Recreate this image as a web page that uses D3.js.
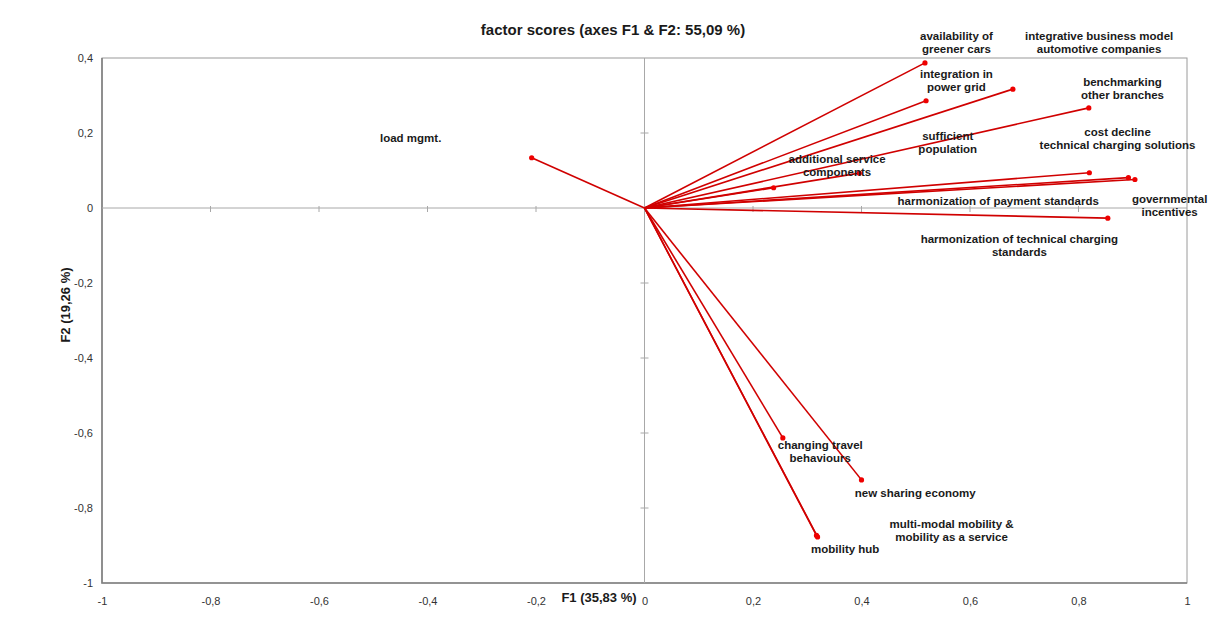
<!DOCTYPE html>
<html>
<head>
<meta charset="utf-8">
<script src="https://cdn.jsdelivr.net/npm/d3@7"></script>
<style>
  body { margin: 0; background: #fff; }
  text { font-family: Arial, "Liberation Sans", sans-serif; }
</style>
</head>
<body>
<div class="vis-biplot"></div>
<script>
// variables (factor loadings on F1 / F2)
const names = [
  'availability of greener cars', 'integration in power grid', 'integrative business model automotive companies',
  'benchmarking other branches', 'sufficient population', 'additional service components',
  'cost decline technical charging solutions', 'harmonization of payment standards', 'governmental incentives',
  'harmonization of technical charging standards', 'load mgmt.', 'changing travel behaviours',
  'new sharing economy', 'mobility hub', 'multi-modal mobility & mobility as a service'
];
const f1 = [0.517, 0.519, 0.679, 0.819, 0.396, 0.238, 0.820, 0.892, 0.904, 0.854, -0.208, 0.255, 0.400, 0.319, 0.317];
const f2 = [0.387, 0.286, 0.317, 0.267, 0.093, 0.054, 0.094, 0.081, 0.076, -0.027, 0.134, -0.613, -0.725, -0.877, -0.873];

// label text lines
const labelLines = [
  ['availability of', 'greener cars'], ['integration in', 'power grid'], ['integrative business model', 'automotive companies'],
  ['benchmarking', 'other branches'], ['sufficient', 'population'], ['additional service', 'components'],
  ['cost decline', 'technical charging solutions'], ['harmonization of payment standards'], ['governmental', 'incentives'],
  ['harmonization of technical charging', 'standards'], ['load mgmt.'], ['changing travel', 'behaviours'],
  ['new sharing economy'], ['mobility hub'], ['multi-modal mobility &', 'mobility as a service']
];
// label anchors (in F1/F2 units, as placed by the original)
const labelX = [0.575, 0.575, 0.838, 0.881, 0.559, 0.355, 0.872, 0.652, 0.968, 0.691, -0.431, 0.324, 0.499, 0.370, 0.566];
const labelY = [0.459, 0.357, 0.459, 0.336, 0.192, 0.131, 0.203, 0.019, 0.024, -0.083, 0.187, -0.632, -0.759, -0.909, -0.843];

const xTicks = [-1, -0.8, -0.6, -0.4, -0.2, 0, 0.2, 0.4, 0.6, 0.8, 1];
const xTickLabels = ['-1', '-0,8', '-0,6', '-0,4', '-0,2', '0', '0,2', '0,4', '0,6', '0,8', '1'];
const yTicks = [-1, -0.8, -0.6, -0.4, -0.2, 0, 0.2, 0.4];
const yTickLabels = ['-1', '-0,8', '-0,6', '-0,4', '-0,2', '0', '0,2', '0,4'];

const width = 1217, height = 643;
const plot = { left: 102, right: 1187, top: 58, bottom: 583 };

const svg = d3.select('.vis-biplot').append('svg')
  .attr('width', width).attr('height', height);

const x = d3.scaleLinear().domain([-1, 1]).range([plot.left, plot.right]);
const y = d3.scaleLinear().domain([-1, 0.4]).range([plot.bottom, plot.top]);

// frame
svg.append('rect')
  .attr('x', plot.left).attr('y', plot.top)
  .attr('width', plot.right - plot.left).attr('height', plot.bottom - plot.top)
  .attr('fill', 'none').attr('stroke', '#9a9a9a').attr('stroke-width', 1);
svg.append('path')
  .attr('d', `M${plot.left},${plot.top}V${plot.bottom}H${plot.right}`)
  .attr('fill', 'none').attr('stroke', '#808080').attr('stroke-width', 1.6);

// tick labels via axes
const fmtX = (d) => xTickLabels[xTicks.indexOf(d)];
const fmtY = (d) => yTickLabels[yTicks.indexOf(d)];
const gx = svg.append('g').attr('transform', `translate(0,${plot.bottom})`)
  .call(d3.axisBottom(x).tickValues(xTicks).tickFormat(fmtX).tickSize(0).tickPadding(12));
const gy = svg.append('g').attr('transform', `translate(${plot.left},0)`)
  .call(d3.axisLeft(y).tickValues(yTicks).tickFormat(fmtY).tickSize(0).tickPadding(9));
[gx, gy].forEach(g => {
  g.select('.domain').remove();
  g.selectAll('text').attr('font-size', 11).attr('fill', '#333')
    .attr('font-family', '"Liberation Sans Narrow", Arial, "Liberation Sans", sans-serif');
});
gx.selectAll('text').attr('dy', '0.9em');

// zero axes
svg.append('line').attr('x1', x(-1)).attr('x2', x(1)).attr('y1', y(0)).attr('y2', y(0))
  .attr('stroke', '#a8a8a8').attr('stroke-width', 1);
svg.append('line').attr('x1', x(0)).attr('x2', x(0)).attr('y1', y(0.4)).attr('y2', y(-1))
  .attr('stroke', '#a8a8a8').attr('stroke-width', 1);
svg.selectAll('.xtick').data(xTicks.filter(d => d > -1 && d < 1 && d !== 0)).enter().append('line')
  .attr('x1', d => x(d)).attr('x2', d => x(d)).attr('y1', y(0) - 2).attr('y2', y(0) + 4)
  .attr('stroke', '#a8a8a8');
svg.selectAll('.ytick').data(yTicks.filter(d => d > -1 && d < 0.4 && d !== 0)).enter().append('line')
  .attr('x1', x(0) - 4).attr('x2', x(0) + 4).attr('y1', d => y(d)).attr('y2', d => y(d))
  .attr('stroke', '#a8a8a8');

// vectors
const idx = d3.range(names.length);
svg.selectAll('.vec').data(idx).enter().append('line')
  .attr('x1', x(0)).attr('y1', y(0))
  .attr('x2', i => x(f1[i])).attr('y2', i => y(f2[i]))
  .attr('stroke', '#d00000').attr('stroke-width', 1.6);
svg.selectAll('.dot').data(idx).enter().append('circle')
  .attr('cx', i => x(f1[i])).attr('cy', i => y(f2[i])).attr('r', 2.6)
  .attr('fill', '#ee0000');

// labels
const lab = svg.selectAll('.lab').data(idx).enter().append('text')
  .attr('x', i => x(labelX[i])).attr('y', i => y(labelY[i]))
  .attr('text-anchor', 'middle').attr('font-size', 11.5).attr('font-weight', 'bold').attr('fill', '#1a1a1a');
lab.each(function(i) {
  const t = d3.select(this);
  labelLines[i].forEach((s, k) => {
    t.append('tspan').attr('x', x(labelX[i])).attr('dy', k === 0 ? '0.35em' : 13).text(s);
  });
});

// titles
svg.append('text').attr('x', 613).attr('y', 35).attr('text-anchor', 'middle')
  .attr('font-size', 15).attr('font-weight', 'bold').attr('fill', '#1a1a1a')
  .text('factor scores  (axes F1 & F2: 55,09 %)');
svg.append('text').attr('x', 599).attr('y', 602).attr('text-anchor', 'middle')
  .attr('font-size', 13).attr('font-weight', 'bold').attr('fill', '#1a1a1a')
  .text('F1 (35,83 %)');
svg.append('text').attr('transform', 'translate(70,305) rotate(-90)').attr('text-anchor', 'middle')
  .attr('font-size', 13).attr('font-weight', 'bold').attr('fill', '#1a1a1a')
  .text('F2 (19,26 %)');
</script>
</body>
</html>
